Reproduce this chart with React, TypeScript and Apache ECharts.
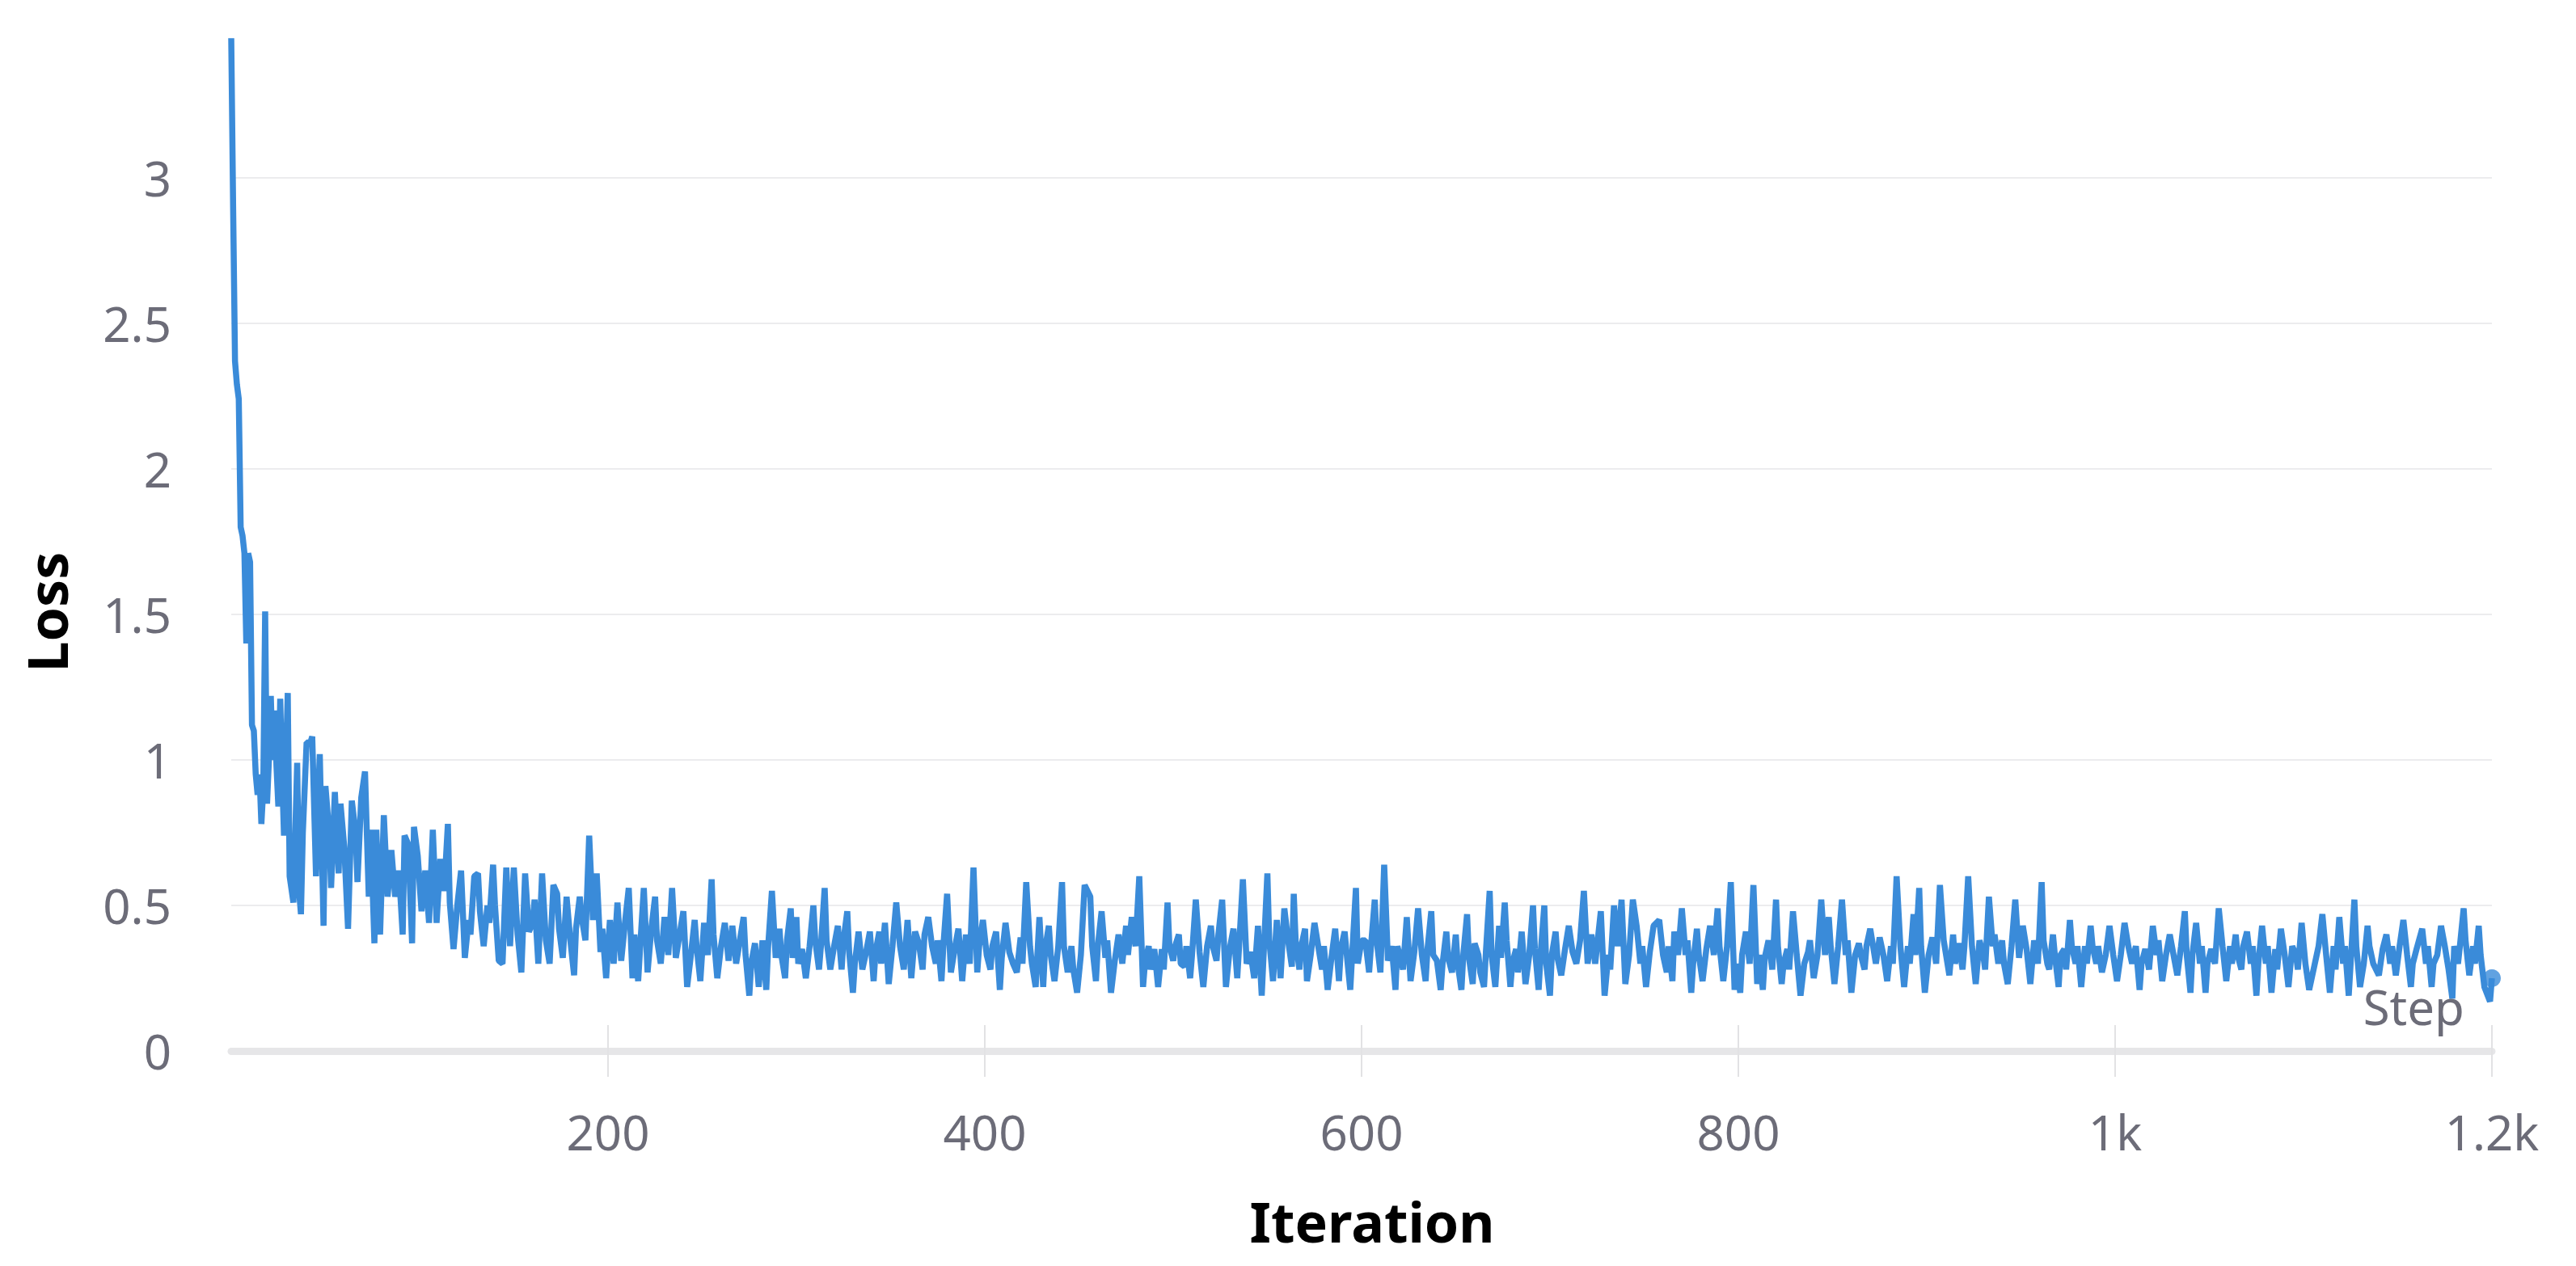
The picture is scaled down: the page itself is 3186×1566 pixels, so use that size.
import React, { useEffect, useRef } from "react";
import * as echarts from "echarts";

// Training step of each sampled point
const steps = [
  0, 1, 2, 3, 4, 5, 6, 7, 8, 9,
  10, 11, 12, 13, 14, 15, 16, 17, 18, 19,
  20, 21, 22, 23, 24, 25, 26, 27, 28, 29,
  30, 31, 33, 35, 36, 37, 38, 40, 42, 43,
  45, 46, 47, 49, 50, 52, 53, 55, 57, 58,
  60, 62, 64, 66, 67, 69, 71, 73, 74, 76,
  77, 79, 81, 83, 85, 87, 89, 91, 92, 94,
  96, 97, 99,
  101, 103, 105, 107, 109, 111, 113, 115, 116, 118,
  120, 122, 124, 126, 127, 129, 131, 132, 134, 136,
  137, 139, 140, 142, 144, 146, 148, 150, 152, 154,
  156, 158, 160, 161, 163, 165, 167, 169, 171, 173,
  174, 176, 178, 180, 182, 183, 185, 186, 188, 190,
  192, 194, 196, 197, 199,
  201, 203, 205, 207, 209, 211, 213, 214, 216, 217,
  219, 221, 223, 225, 226, 228, 230, 232, 234, 236,
  238, 240, 242, 244, 246, 247, 249, 251, 253, 255,
  256, 258, 260, 262, 264, 266, 268, 270, 272, 273,
  275, 276, 278, 280, 282, 284, 285, 287, 289, 291,
  292, 294, 295, 297, 298, 300,
  301, 303, 305, 307, 309, 310, 312, 313, 315, 316,
  318, 320, 322, 324, 325, 327, 328, 330, 331, 333,
  335, 337, 339, 341, 342, 344, 345, 347, 349, 351,
  353, 355, 357, 359, 361, 363, 365, 367, 368, 370,
  372, 374, 375, 377, 378, 380, 382, 384, 386, 388,
  390, 392, 394, 396, 397, 399,
  401, 403, 404, 406, 408, 409, 411, 413, 415, 417,
  419, 420, 422, 424, 425, 427, 429, 431, 432, 434,
  435, 437, 439, 441, 442, 444, 446, 447, 449, 451,
  453, 456, 457, 459, 460, 462, 464, 465, 467, 469,
  471, 473, 475, 476, 478, 480, 482, 484, 485, 487,
  488, 490, 492, 494, 495, 497, 498, 500,
  501, 503, 504, 506, 507, 509, 510, 512, 514, 516,
  518, 520, 521, 523, 524, 526, 528, 530, 532, 534,
  535, 537, 539, 541, 543, 545, 547, 548, 550, 551,
  553, 555, 557, 559, 561, 563, 564, 565, 567, 568,
  570, 571, 573, 575, 577, 579, 580, 582, 584, 586,
  588, 589, 591, 592, 594, 595, 597, 598, 600,
  602, 604, 605, 607, 608, 610, 612, 614, 616, 618,
  619, 621, 622, 624, 626, 628, 630, 632, 634, 635,
  637, 638, 640, 642, 643, 645, 646, 648, 650, 651,
  653, 654, 656, 657, 659, 660, 662, 663, 665, 666,
  668, 669, 671, 673, 674, 676, 677, 679, 680, 682,
  683, 685, 687, 689, 691, 692, 694, 695, 697, 698, 700,
  701, 703, 704, 706, 708, 710, 712, 714, 716, 718,
  720, 722, 724, 725, 727, 729, 731, 732, 734, 736,
  738, 740, 742, 744, 746, 748, 749, 751, 753, 755,
  758, 760, 762, 763, 765, 766, 768, 770, 772, 773,
  775, 776, 778, 779, 781, 783, 785, 787, 789, 790,
  792, 794, 796, 798, 799,
  801, 802, 804, 806, 808, 810, 811, 813, 814, 816,
  818, 820, 821, 823, 824, 826, 827, 829, 831, 833,
  835, 837, 838, 840, 842, 844, 846, 848, 849, 851,
  853, 855, 857, 858, 860, 862, 864, 865, 867, 868,
  870, 873, 875, 877, 879, 881, 882, 884, 886, 888,
  890, 891, 893, 894, 896, 897, 899,
  901, 903, 905, 907, 909, 911, 912, 914, 915, 917,
  919, 920, 922, 924, 926, 928, 930, 931, 933, 935,
  936, 938, 940, 941, 943, 945, 947, 949, 951, 953,
  955, 957, 959, 961, 962, 964, 965, 967, 968, 970,
  971, 973, 974, 976, 977, 979, 980, 982, 984, 985,
  987, 988, 990, 991, 993, 995, 997, 999,
  1001, 1003, 1005, 1007, 1009, 1011, 1013, 1014, 1016, 1018,
  1020, 1022, 1023, 1025, 1027, 1029, 1031, 1033, 1035, 1037,
  1038, 1040, 1041, 1043, 1045, 1046, 1048, 1049, 1051, 1053,
  1055, 1057, 1059, 1061, 1062, 1064, 1065, 1067, 1068, 1070,
  1072, 1073, 1075, 1076, 1078, 1080, 1081, 1083, 1085, 1086,
  1088, 1090, 1092, 1094, 1096, 1097, 1099,
  1101, 1103, 1106, 1108, 1110, 1112, 1114, 1116, 1117, 1119,
  1121, 1122, 1124, 1125, 1127, 1128, 1130, 1132, 1134, 1135,
  1137, 1140, 1142, 1144, 1146, 1147, 1149, 1151, 1153, 1155,
  1157, 1158, 1160, 1163, 1165, 1166, 1168, 1169, 1171, 1173,
  1175, 1177, 1179, 1180, 1182, 1183, 1185, 1186, 1188, 1190,
  1191, 1193, 1194, 1196, 1199, 1200,
];

// Loss read at each of those steps
const loss = [
  3.48, 2.9, 2.37, 2.29, 2.24, 1.8, 1.77, 1.71, 1.4, 1.71,
  1.68, 1.12, 1.1, 0.95, 0.88, 0.95, 0.78, 0.9, 1.51, 0.85,
  1.0, 1.22, 1.0, 1.17, 0.98, 0.84, 1.21, 0.95, 0.74, 1.0,
  1.23, 0.6, 0.51, 0.99, 0.55, 0.47, 0.75, 1.06, 1.06, 1.08,
  0.6, 0.85, 1.02, 0.43, 0.91, 0.75, 0.56, 0.89, 0.61, 0.85,
  0.7, 0.42, 0.86, 0.75, 0.58, 0.87, 0.96, 0.53, 0.76, 0.37,
  0.76, 0.4, 0.81, 0.53, 0.69, 0.53, 0.62, 0.4, 0.74, 0.71,
  0.37, 0.77, 0.67,
  0.48, 0.62, 0.44, 0.76, 0.44, 0.66, 0.55, 0.78, 0.51, 0.35,
  0.5, 0.62, 0.32, 0.45, 0.4, 0.6, 0.61, 0.48, 0.36, 0.5,
  0.44, 0.64, 0.5, 0.31, 0.3, 0.63, 0.36, 0.63, 0.4, 0.27,
  0.61, 0.41, 0.44, 0.52, 0.3, 0.61, 0.38, 0.3, 0.57, 0.54,
  0.42, 0.32, 0.53, 0.38, 0.26, 0.42, 0.53, 0.46, 0.38, 0.74,
  0.45, 0.61, 0.34, 0.42, 0.25,
  0.45, 0.3, 0.51, 0.31, 0.44, 0.56, 0.25, 0.4, 0.24, 0.35,
  0.56, 0.27, 0.42, 0.53, 0.38, 0.3, 0.46, 0.33, 0.56, 0.32,
  0.4, 0.48, 0.22, 0.33, 0.45, 0.36, 0.24, 0.44, 0.33, 0.59,
  0.4, 0.25, 0.36, 0.44, 0.31, 0.43, 0.3, 0.38, 0.46, 0.33,
  0.19, 0.3, 0.37, 0.22, 0.38, 0.21, 0.36, 0.55, 0.32, 0.42,
  0.33, 0.25, 0.38, 0.49, 0.32, 0.46,
  0.3, 0.35, 0.25, 0.36, 0.5, 0.38, 0.28, 0.36, 0.56, 0.38,
  0.28, 0.36, 0.43, 0.28, 0.38, 0.48, 0.34, 0.2, 0.3, 0.41,
  0.28, 0.34, 0.41, 0.24, 0.34, 0.41, 0.3, 0.44, 0.23, 0.36,
  0.51, 0.36, 0.28, 0.45, 0.25, 0.41, 0.37, 0.28, 0.4, 0.46,
  0.36, 0.3, 0.38, 0.24, 0.36, 0.54, 0.27, 0.35, 0.42, 0.24,
  0.4, 0.3, 0.63, 0.27, 0.36, 0.45,
  0.33, 0.28, 0.36, 0.41, 0.21, 0.32, 0.44, 0.34, 0.3, 0.27,
  0.39, 0.3, 0.58, 0.36, 0.3, 0.22, 0.46, 0.22, 0.35, 0.43,
  0.33, 0.24, 0.36, 0.58, 0.36, 0.27, 0.36, 0.28, 0.2, 0.33,
  0.57, 0.53, 0.36, 0.24, 0.36, 0.48, 0.32, 0.38, 0.2, 0.31,
  0.4, 0.3, 0.43, 0.33, 0.46, 0.36, 0.6, 0.22, 0.3, 0.36,
  0.28, 0.35, 0.22, 0.35, 0.28, 0.51, 0.36, 0.31,
  0.36, 0.4, 0.3, 0.29, 0.36, 0.25, 0.33, 0.52, 0.34, 0.22,
  0.36, 0.43, 0.36, 0.31, 0.4, 0.52, 0.22, 0.35, 0.42, 0.25,
  0.36, 0.59, 0.3, 0.34, 0.25, 0.43, 0.19, 0.33, 0.61, 0.38,
  0.24, 0.45, 0.25, 0.49, 0.38, 0.29, 0.54, 0.38, 0.28, 0.36,
  0.42, 0.24, 0.33, 0.44, 0.36, 0.28, 0.36, 0.21, 0.32, 0.42,
  0.24, 0.35, 0.41, 0.34, 0.21, 0.33, 0.56, 0.3, 0.38,
  0.38, 0.27, 0.36, 0.52, 0.38, 0.27, 0.64, 0.31, 0.36, 0.21,
  0.36, 0.31, 0.28, 0.46, 0.24, 0.34, 0.49, 0.33, 0.24, 0.35,
  0.48, 0.33, 0.31, 0.21, 0.3, 0.41, 0.32, 0.27, 0.4, 0.3,
  0.21, 0.33, 0.47, 0.32, 0.23, 0.37, 0.33, 0.27, 0.22, 0.34,
  0.55, 0.33, 0.22, 0.43, 0.32, 0.51, 0.38, 0.22, 0.3, 0.35,
  0.27, 0.41, 0.23, 0.33, 0.5, 0.35, 0.21, 0.33, 0.5, 0.3, 0.19,
  0.33, 0.41, 0.32, 0.26, 0.35, 0.43, 0.34, 0.3, 0.38, 0.55,
  0.3, 0.4, 0.3, 0.36, 0.48, 0.19, 0.33, 0.28, 0.5, 0.36,
  0.52, 0.23, 0.33, 0.52, 0.43, 0.3, 0.36, 0.22, 0.34, 0.43,
  0.45, 0.33, 0.27, 0.36, 0.24, 0.41, 0.33, 0.49, 0.33, 0.38,
  0.2, 0.3, 0.42, 0.33, 0.24, 0.35, 0.43, 0.33, 0.49, 0.36,
  0.24, 0.36, 0.58, 0.21, 0.3,
  0.2, 0.33, 0.41, 0.3, 0.57, 0.23, 0.33, 0.21, 0.32, 0.38,
  0.28, 0.52, 0.36, 0.23, 0.3, 0.35, 0.28, 0.48, 0.33, 0.19,
  0.3, 0.34, 0.38, 0.25, 0.33, 0.52, 0.33, 0.46, 0.36, 0.23,
  0.36, 0.52, 0.33, 0.38, 0.2, 0.33, 0.37, 0.33, 0.28, 0.36,
  0.42, 0.3, 0.39, 0.33, 0.24, 0.36, 0.3, 0.6, 0.36, 0.22,
  0.36, 0.3, 0.47, 0.33, 0.56, 0.36, 0.2,
  0.33, 0.39, 0.3, 0.57, 0.38, 0.3, 0.26, 0.4, 0.3, 0.37,
  0.28, 0.36, 0.6, 0.36, 0.23, 0.38, 0.33, 0.28, 0.53, 0.36,
  0.4, 0.3, 0.38, 0.3, 0.23, 0.36, 0.52, 0.32, 0.43, 0.35,
  0.23, 0.38, 0.3, 0.58, 0.38, 0.3, 0.28, 0.4, 0.33, 0.22,
  0.33, 0.35, 0.28, 0.45, 0.36, 0.3, 0.36, 0.22, 0.36, 0.3,
  0.43, 0.36, 0.3, 0.36, 0.27, 0.33, 0.43, 0.33,
  0.24, 0.33, 0.44, 0.36, 0.3, 0.36, 0.21, 0.3, 0.35, 0.28,
  0.43, 0.33, 0.38, 0.24, 0.33, 0.4, 0.33, 0.26, 0.36, 0.48,
  0.33, 0.2, 0.33, 0.44, 0.3, 0.36, 0.2, 0.3, 0.35, 0.3,
  0.49, 0.36, 0.24, 0.36, 0.3, 0.4, 0.33, 0.28, 0.36, 0.41,
  0.3, 0.36, 0.19, 0.3, 0.43, 0.3, 0.36, 0.2, 0.35, 0.28,
  0.42, 0.33, 0.22, 0.36, 0.33, 0.28, 0.44,
  0.3, 0.21, 0.3, 0.36, 0.47, 0.33, 0.2, 0.36, 0.28, 0.46,
  0.3, 0.36, 0.19, 0.3, 0.52, 0.36, 0.22, 0.3, 0.43, 0.36,
  0.3, 0.26, 0.35, 0.4, 0.3, 0.36, 0.26, 0.36, 0.45, 0.33,
  0.22, 0.3, 0.35, 0.42, 0.3, 0.36, 0.22, 0.3, 0.33, 0.43,
  0.36, 0.28, 0.18, 0.36, 0.3, 0.36, 0.49, 0.38, 0.26, 0.36,
  0.3, 0.43, 0.33, 0.22, 0.17, 0.25,
];

const yTicks = [0, 0.5, 1, 1.5, 2, 2.5, 3];
const xTicks = [200, 400, 600, 800, 1000, 1200];
const xTitle = "Iteration";
const yTitle = "Loss";
const stepLabel = "Step";

const LINE_COLOR = "#3a8bd9";
const LABEL_COLOR = "#6c6c78";
const FONT = "'Noto Sans', 'Open Sans', sans-serif";

export default function App() {
  const ref = useRef<HTMLDivElement>(null);

  useEffect(() => {
    if (!ref.current) return;
    const chart = echarts.init(ref.current, undefined, { renderer: "svg" });
    const n = Math.min(steps.length, loss.length);
    const data = steps.slice(0, n).map((s, i) => [s, loss[i]]);
    const last = data[data.length - 1];
    const fmtX = (v: number) => (v >= 1000 ? `${v / 1000}k` : `${v}`);

    chart.setOption({
      animation: false,
      backgroundColor: "#ffffff",
      grid: { left: 286, right: 104, top: 40, bottom: 266, containLabel: false },
      xAxis: [
        {
          type: "value",
          min: 0,
          max: 1200,
          interval: 200,
          position: "bottom",
          axisLine: { show: true, lineStyle: { color: "#e6e6e8", width: 9 } },
          axisTick: {
            show: true,
            length: 32,
            customValues: xTicks,
            lineStyle: { color: "#e2e2e4", width: 2 },
          },
          axisLabel: {
            show: true,
            customValues: xTicks,
            formatter: fmtX,
            color: LABEL_COLOR,
            fontSize: 60,
            fontFamily: FONT,
            margin: 70,
          },
          splitLine: { show: false },
        },
        {
          type: "value",
          min: 0,
          max: 1200,
          interval: 200,
          position: "bottom",
          axisLine: { show: false },
          axisTick: {
            show: true,
            inside: true,
            length: 32,
            customValues: xTicks,
            lineStyle: { color: "#e2e2e4", width: 2 },
          },
          axisLabel: { show: false },
          splitLine: { show: false },
        },
      ],
      yAxis: {
        type: "value",
        min: 0,
        max: 3.5,
        interval: 0.5,
        axisLine: { show: false },
        axisTick: { show: false },
        axisLabel: {
          customValues: yTicks,
          color: LABEL_COLOR,
          fontSize: 60,
          fontFamily: FONT,
          margin: 74,
        },
        splitLine: {
          show: true,
          showMaxLine: false,
          lineStyle: { color: "#ececee", width: 2 },
        },
      },
      series: [
        {
          type: "line",
          data,
          xAxisIndex: 0,
          yAxisIndex: 0,
          showSymbol: false,
          symbol: "none",
          clip: false,
          lineStyle: { color: LINE_COLOR, width: 7.5 },
          z: 3,
        },
        {
          type: "scatter",
          data: [last],
          xAxisIndex: 0,
          yAxisIndex: 0,
          symbolSize: 22,
          itemStyle: { color: LINE_COLOR },
          z: 4,
        },
      ],
      graphic: [
        {
          type: "text",
          x: 3048,
          y: 1245,
          style: {
            text: stepLabel,
            fill: LABEL_COLOR,
            font: `60px ${FONT}`,
            align: "right",
            verticalAlign: "middle",
          },
          z: 10,
        },
        {
          type: "text",
          x: 1697,
          y: 1510,
          style: {
            text: xTitle,
            fill: "#000000",
            font: `bold 68px ${FONT}`,
            align: "center",
            verticalAlign: "middle",
          },
        },
        {
          type: "text",
          x: 57,
          y: 757,
          rotation: Math.PI / 2,
          style: {
            text: yTitle,
            fill: "#000000",
            font: `bold 68px ${FONT}`,
            align: "center",
            verticalAlign: "middle",
          },
        },
      ],
    });

    return () => chart.dispose();
  }, []);

  return (
    <div
      ref={ref}
      style={{ position: "absolute", left: 0, top: 0, width: "3186px", height: "1566px" }}
    />
  );
}
